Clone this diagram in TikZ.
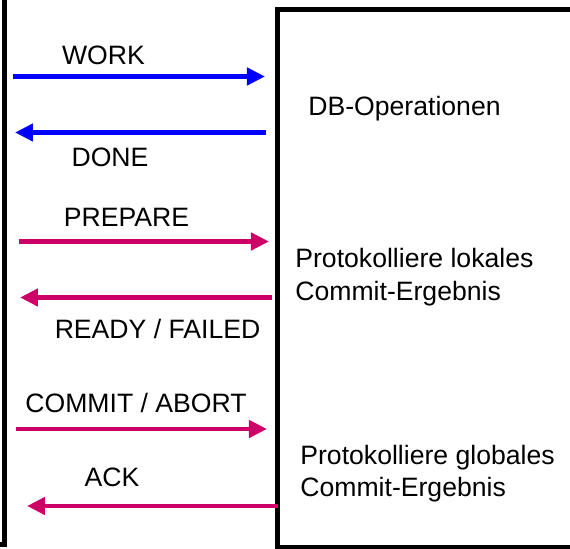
\documentclass[tikz,border=0pt]{standalone}
\usepackage{fontspec}
\setmainfont{Liberation Sans}
\usepackage{xcolor}
\usepackage{tikz}
\usetikzlibrary{arrows.meta}
\definecolor{msgblue}{RGB}{0, 0, 255}
\definecolor{msgmagenta}{RGB}{204, 0, 102}

\begin{document}
\begin{tikzpicture}[x=0.5pt, y=-0.5pt,
    every node/.style={font=\fontsize{13.3}{16.3}\selectfont, inner sep=0pt},
    lbl/.style={anchor=base},
    note/.style={anchor=north west, align=left},
    msg/.style={line width=2.2pt, -{Triangle[length=9pt, width=8.5pt]}}]
    \useasboundingbox (0,0) rectangle (570,549);
    \begin{scope}
        \clip (0,0) rectangle (570,549);
        % coordinator (left) and participant (right)
        \draw[line width=2.5pt] (-40,0) |- (5,545) coordinate (coord-end) -- (5,-5);
        \draw[line width=2.5pt] (278,9.5) rectangle (620,548);
    \end{scope}

    % end points of the messages
    \coordinate (work-s) at (13,76.5);    \coordinate (work-e) at (265,76.5);
    \coordinate (done-s) at (266,132.5);  \coordinate (done-e) at (15,132.5);
    \coordinate (prep-s) at (19,241.5);   \coordinate (prep-e) at (269,241.5);
    \coordinate (ready-s) at (272,297.5); \coordinate (ready-e) at (20,297.5);
    \coordinate (com-s) at (16,429);      \coordinate (com-e) at (267,429);
    \coordinate (ack-s) at (278,506);     \coordinate (ack-e) at (27,506);

    \draw[msg, msgblue] (work-s) -- (work-e);
    \draw[msg, msgblue] (done-s) -- (done-e);
    \draw[msg, msgmagenta] (prep-s) -- (prep-e);
    \draw[msg, msgmagenta] (ready-s) -- (ready-e);
    \draw[msg, msgmagenta] (com-s) -- (com-e);
    \draw[msg, msgmagenta] (ack-s) -- (ack-e);

    \node[lbl] (work) at (103.5,65) {WORK};
    \node[lbl] (done) at (110,167) {DONE};
    \node[lbl] (prep) at (126.5,226.7) {PREPARE};
    \node[lbl] (ready) at (157.5,338.3) {READY / FAILED};
    \node[lbl] (com) at (136,413) {COMMIT / ABORT};
    \node[lbl] (ack) at (112,487) {ACK};

    \node[note] (dbops) at (308,96) {DB-Operationen};
    \node[note] (local) at (295,248) {Protokolliere lokales\\Commit-Ergebnis};
    \node[note] (global) at (300,444.5) {Protokolliere globales\\Commit-Ergebnis};
\end{tikzpicture}
\end{document}
